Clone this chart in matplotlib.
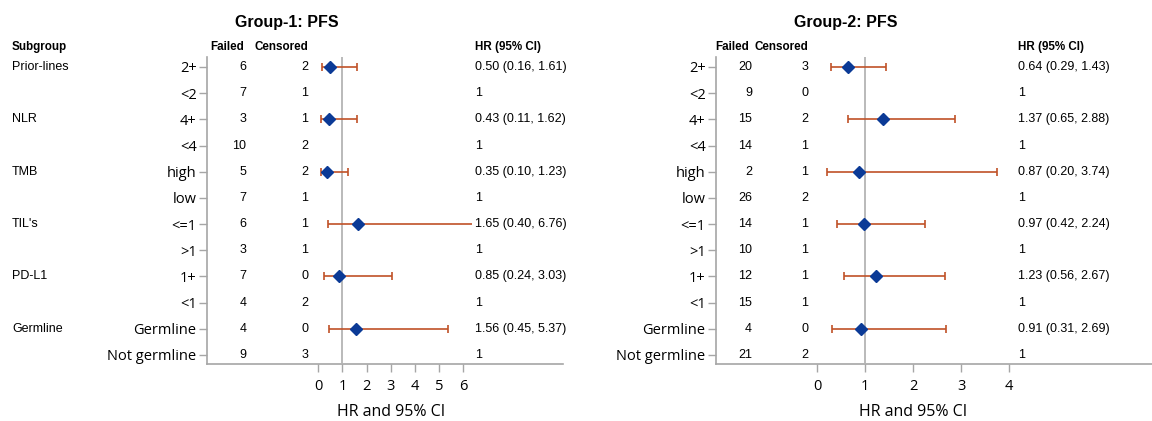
import numpy as np
import matplotlib
matplotlib.use("Agg")
import matplotlib.pyplot as plt
from matplotlib.transforms import blended_transform_factory

# rows shared by both panels
row_labels = ["2+", "<2", "4+", "<4", "high", "low", "<=1", ">1", "1+", "<1",
              "Germline", "Not germline"]
group_names = ["Prior-lines", "NLR", "TMB", "TIL's", "PD-L1", "Germline"]
group_rows = [0, 2, 4, 6, 8, 10]

# Group-1
failed1 = [6, 7, 3, 10, 5, 7, 6, 3, 7, 4, 4, 9]
cens1 = [2, 1, 1, 2, 2, 1, 1, 1, 0, 2, 0, 3]
hr1 = [0.50, None, 0.43, None, 0.35, None, 1.65, None, 0.85, None, 1.56, None]
lo1 = [0.16, None, 0.11, None, 0.10, None, 0.40, None, 0.24, None, 0.45, None]
hi1 = [1.61, None, 1.62, None, 1.23, None, 6.76, None, 3.03, None, 5.37, None]

# Group-2
failed2 = [20, 9, 15, 14, 2, 26, 14, 10, 12, 15, 4, 21]
cens2 = [3, 0, 2, 1, 1, 2, 1, 1, 1, 1, 0, 2]
hr2 = [0.64, None, 1.37, None, 0.87, None, 0.97, None, 1.23, None, 0.91, None]
lo2 = [0.29, None, 0.65, None, 0.20, None, 0.42, None, 0.56, None, 0.31, None]
hi2 = [1.43, None, 2.88, None, 3.74, None, 2.24, None, 2.67, None, 2.69, None]

W, H = 1152, 421
TOP, BOT = 57, 364          # frame top / bottom in pixels
ROW0, PITCH = 67, 26.18     # first row centre and row spacing in pixels
GRAY = "#a6a6a6"
DIAMOND = "#0b3a96"
CI_COL = "#c05228"
SMALL = "Liberation Sans"
BIG = "Open Sans"

fig = plt.figure(figsize=(W / 100, H / 100), dpi=100)
ylim = (11 + (BOT - ROW0 - 11 * PITCH) / PITCH, -(ROW0 - TOP) / PITCH)


def panel(title, failed, cens, hr, lo, hi, frame_x, hr0, ppu, hr_span, ticks,
          failed_x, cens_x, hr_txt_x, title_x, show_groups):
    bottom = 1 - BOT / H
    height = (BOT - TOP) / H
    frame = fig.add_axes([frame_x[0] / W, bottom, (frame_x[1] - frame_x[0]) / W, height])
    frame.set_ylim(*ylim)
    frame.set_xlim(0, 1)
    for s in ["top", "right"]:
        frame.spines[s].set_visible(False)
    for s in ["left", "bottom"]:
        frame.spines[s].set_color(GRAY)
        frame.spines[s].set_linewidth(1.2)
    frame.set_xticks([])
    frame.set_yticks(range(len(row_labels)))
    frame.set_yticklabels(row_labels, fontfamily=BIG, fontsize=10.5)
    frame.tick_params(axis="y", direction="out", length=6, width=1, color=GRAY, pad=1.5)
    frame.patch.set_alpha(0)

    # HR area laid over the frame
    lo_x = hr0 + hr_span[0] * ppu
    hi_x = hr0 + hr_span[1] * ppu
    ax = fig.add_axes([lo_x / W, bottom, (hi_x - lo_x) / W, height])
    ax.set_xlim(*hr_span)
    ax.set_ylim(*ylim)
    for s in ax.spines.values():
        s.set_visible(False)
    ax.patch.set_alpha(0)
    ax.set_yticks([])
    ax.set_xticks(ticks)
    ax.set_xticklabels([str(t) for t in ticks], fontfamily=BIG, fontsize=10.5)
    ax.tick_params(axis="x", direction="out", length=6, width=1, color=GRAY, pad=5)
    ax.axvline(1, color="#b4b4b4", lw=1.3, zorder=1)

    idx = [i for i, v in enumerate(hr) if v is not None]
    x = np.array([hr[i] for i in idx])
    xl = np.array([lo[i] for i in idx])
    xh = np.array([hi[i] for i in idx])
    ax.errorbar(x, idx, xerr=[x - xl, xh - x], fmt="none", ecolor=CI_COL,
                elinewidth=1.2, capsize=3.2, capthick=1.2, zorder=2)
    ax.plot(x, idx, "D", color=DIAMOND, ms=6.5, zorder=3, clip_on=False)

    mid = (ticks[0] + ticks[-1]) / 2
    ax.set_xlabel("HR and 95% CI", fontfamily=BIG, fontsize=11.5)
    ax.xaxis.set_label_coords((mid - hr_span[0]) / (hr_span[1] - hr_span[0]),
                              -(404 - BOT) / (BOT - TOP))

    # text columns
    tr = blended_transform_factory(fig.transFigure, frame.transData)
    hdr_y = -0.78
    kw = dict(fontfamily=SMALL, fontsize=9, va="center", transform=tr)
    hkw = dict(fontfamily=SMALL, fontsize=8.4, fontweight="bold", va="center", transform=tr)
    fig.text((failed_x - 2.5) / W, hdr_y, "Failed", ha="right", **hkw)
    fig.text(cens_x / W, hdr_y, "Censored", ha="right", **hkw)
    fig.text(hr_txt_x / W, hdr_y, "HR (95% CI)", ha="left", **hkw)
    for i in range(len(row_labels)):
        fig.text(failed_x / W, i, str(failed[i]), ha="right", **kw)
        fig.text(cens_x / W, i, str(cens[i]), ha="right", **kw)
        if hr[i] is None:
            s = "1"
        else:
            s = f"{hr[i]:.2f} ({lo[i]:.2f}, {hi[i]:.2f})"
        fig.text(hr_txt_x / W, i, s, ha="left", **kw)
    if show_groups:
        fig.text(12 / W, hdr_y, "Subgroup", ha="left", **hkw)
        for r, g in zip(group_rows, group_names):
            fig.text(12 / W, r, g, ha="left", **kw)

    fig.text(title_x / W, 1 - 22 / H, title, ha="center", va="center",
             fontfamily=SMALL, fontsize=11.5, fontweight="bold")


panel("Group-1: PFS", failed1, cens1, hr1, lo1, hi1,
      frame_x=(207, 563), hr0=318.3, ppu=24.17, hr_span=(-0.5, 6.35),
      ticks=[0, 1, 2, 3, 4, 5, 6], failed_x=246.5, cens_x=308.5,
      hr_txt_x=475, title_x=287, show_groups=True)
panel("Group-2: PFS", failed2, cens2, hr2, lo2, hi2,
      frame_x=(716, 1152), hr0=817, ppu=48, hr_span=(-0.5, 4.19),
      ticks=[0, 1, 2, 3, 4], failed_x=752, cens_x=808.3,
      hr_txt_x=1018, title_x=846, show_groups=False)

fig.savefig("out.png", dpi=100)
